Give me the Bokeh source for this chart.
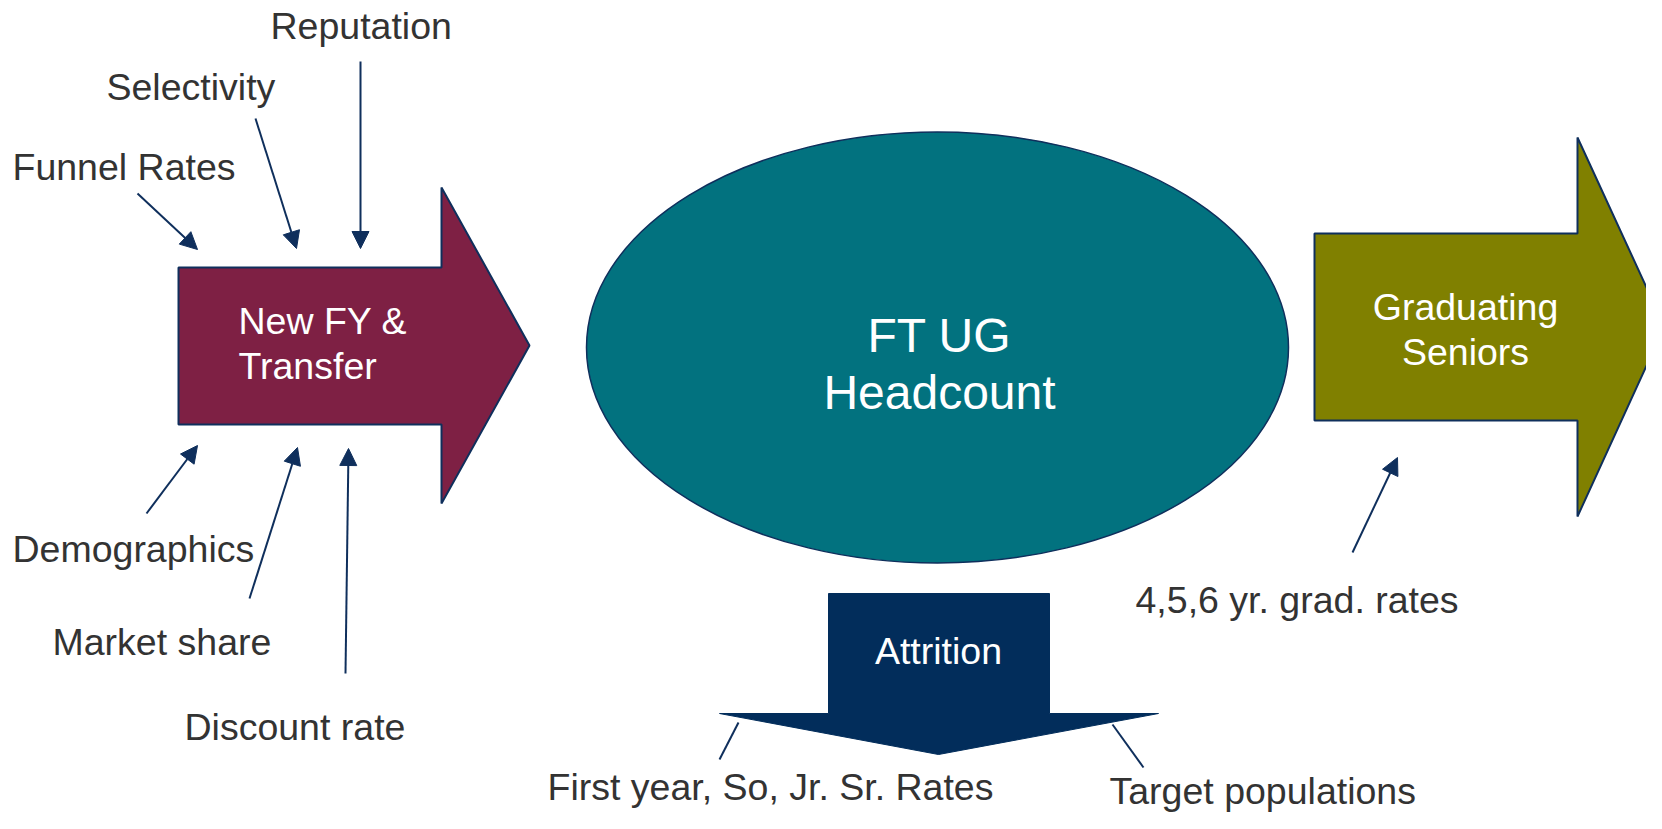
from bokeh.plotting import figure
from bokeh.models import Arrow, NormalHead, Range1d
from bokeh.core.properties import value
from bokeh.embed import file_html
from bokeh.resources import INLINE

# ---- texts ----
inflow_title = ["New FY &", "Transfer"]
stock_title = ["FT UG", "Headcount"]
outflow_title = ["Graduating", "Seniors"]
attrition_title = ["Attrition"]
inflow_drivers_top = ["Reputation", "Selectivity", "Funnel Rates"]
inflow_drivers_bottom = ["Demographics", "Market share", "Discount rate"]
grad_driver = ["4,5,6 yr. grad. rates"]
attrition_drivers = ["First year, So, Jr. Sr. Rates", "Target populations"]

# ---- colours ----
MAROON = "#7e2044"
TEAL = "#02727f"
OLIVE = "#808000"
NAVY = "#022d5b"
EDGE = "#0f2f5c"
LABEL = "#333333"
FONT = value("Liberation Sans")
LBL_SIZE = "37.5px"

W, H = 1646, 813
p = figure(width=W, height=H, output_backend="svg", toolbar_location=None,
           x_range=Range1d(0, W), y_range=Range1d(H, 0),
           min_border=0, tools="")
p.axis.visible = False
p.grid.visible = False
p.outline_line_color = None
p.background_fill_color = "white"

# ---- layout geometry (screen pixels) ----
red_x = [178, 441, 441, 529, 441, 441, 178]
red_y = [267, 267, 187, 345, 503, 424, 424]
p.patch(red_x, red_y, fill_color=MAROON, line_color=EDGE, line_width=2)

green_x = [1314, 1577, 1577, 1664, 1577, 1577, 1314]
green_y = [233, 233, 137, 326, 516, 420, 420]
p.patch(green_x, green_y, fill_color=OLIVE, line_color=EDGE, line_width=2)

p.ellipse(x=[937], y=[347], width=[702], height=[431],
          fill_color=TEAL, line_color=EDGE, line_width=1.5)

att_x = [828, 1049, 1049, 1158, 938, 719, 828]
att_y = [593, 593, 713, 713, 754, 713, 713]
p.patch(att_x, att_y, fill_color=NAVY, line_color=NAVY, line_width=1)

# ---- shape titles ----
def txt(xs, ys, labels, color, size, align):
    p.text(x=xs, y=ys, text=labels, text_color=color, text_font=FONT,
           text_font_size=size, text_align=align, text_baseline="alphabetic")

txt([238, 238], [320, 365], inflow_title, "white", LBL_SIZE, "left")
txt([939, 939], [335, 392], stock_title, "white", "48px", "center")
txt([1465, 1465], [306, 351], outflow_title, "white", LBL_SIZE, "center")
txt([938], [650], attrition_title, "white", LBL_SIZE, "center")

# ---- driver labels ----
txt([270, 106, 12], [25, 86, 166], inflow_drivers_top, LABEL, LBL_SIZE, "left")
txt([12, 52, 184], [548, 641, 726], inflow_drivers_bottom, LABEL, LBL_SIZE, "left")
txt([1135], [599], grad_driver, LABEL, LBL_SIZE, "left")
txt([547, 1109], [786, 790], attrition_drivers, LABEL, LBL_SIZE, "left")

# ---- arrows ----
arrows = [
    ((360, 61), (360, 248)),
    ((255, 118), (296, 248)),
    ((137, 193), (197, 249)),
    ((146, 513), (197, 445)),
    ((249, 598), (297, 447)),
    ((345, 673), (348, 448)),
    ((1352, 552), (1397, 457)),
]
for (x0, y0), (x1, y1) in arrows:
    p.add_layout(Arrow(x_start=x0, y_start=y0, x_end=x1, y_end=y1,
                       line_color=EDGE, line_width=2,
                       end=NormalHead(size=17, fill_color=EDGE, line_color=EDGE)))

p.segment(x0=[738, 1112], y0=[722, 724], x1=[719, 1143], y1=[759, 767],
          line_color=EDGE, line_width=2)

open("out.html", "w").write(file_html(p, INLINE))
